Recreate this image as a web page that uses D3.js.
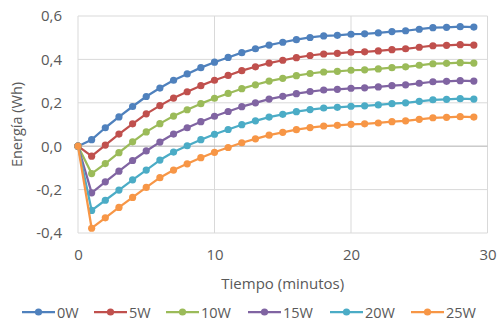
<!DOCTYPE html>
<html><head><meta charset="utf-8">
<script src="https://cdn.jsdelivr.net/npm/d3@7"></script>
<style>body{margin:0;background:#fff;} text{font-family:"Open Sans", Lato, sans-serif;fill:#595959;}</style>
</head><body><svg id="c" width="500" height="324"></svg>
<script>
const minutes = d3.range(0, 30);
const seriesNames = ["0W", "5W", "10W", "15W", "20W", "25W"];
const colors = ["#4F81BD", "#C0504D", "#9BBB59", "#8064A2", "#4BACC6", "#F79646"];
const s0W = [0, 0.030, 0.085, 0.135, 0.183, 0.229, 0.268, 0.304, 0.333, 0.362, 0.387, 0.409, 0.431, 0.449, 0.466, 0.479, 0.491, 0.501, 0.508, 0.511, 0.516, 0.518, 0.522, 0.528, 0.532, 0.539, 0.546, 0.548, 0.551, 0.549];
const s5W = [0, -0.046, 0.005, 0.056, 0.103, 0.149, 0.187, 0.222, 0.251, 0.279, 0.304, 0.326, 0.348, 0.366, 0.383, 0.396, 0.408, 0.418, 0.425, 0.428, 0.433, 0.435, 0.439, 0.445, 0.449, 0.456, 0.463, 0.465, 0.468, 0.466];
const s10W = [0, -0.126, -0.080, -0.030, 0.020, 0.066, 0.104, 0.139, 0.168, 0.196, 0.221, 0.243, 0.265, 0.283, 0.300, 0.313, 0.325, 0.335, 0.342, 0.345, 0.350, 0.352, 0.356, 0.362, 0.366, 0.373, 0.380, 0.382, 0.385, 0.383];
const s15W = [0, -0.215, -0.164, -0.115, -0.066, -0.022, 0.019, 0.056, 0.085, 0.113, 0.138, 0.160, 0.182, 0.200, 0.217, 0.230, 0.242, 0.252, 0.259, 0.262, 0.267, 0.269, 0.273, 0.279, 0.283, 0.290, 0.297, 0.299, 0.302, 0.300];
const s20W = [0, -0.296, -0.249, -0.202, -0.155, -0.110, -0.064, -0.027, 0.002, 0.030, 0.055, 0.077, 0.099, 0.117, 0.134, 0.147, 0.159, 0.169, 0.176, 0.179, 0.184, 0.186, 0.190, 0.196, 0.200, 0.207, 0.214, 0.216, 0.219, 0.217];
const s25W = [0, -0.378, -0.330, -0.282, -0.236, -0.190, -0.145, -0.110, -0.081, -0.053, -0.028, -0.006, 0.016, 0.034, 0.051, 0.064, 0.076, 0.086, 0.093, 0.096, 0.101, 0.103, 0.107, 0.113, 0.117, 0.124, 0.131, 0.133, 0.136, 0.134];
const seriesValues = [s0W, s5W, s10W, s15W, s20W, s25W];
const xTicks = [0, 10, 20, 30];
const yTicks = [-0.4, -0.2, 0, 0.2, 0.4, 0.6];

const svg = d3.select("#c");
const L = 78, R = 487.5, T = 16, B = 233;
const x = d3.scaleLinear().domain([0, 30]).range([L, R]);
const y = d3.scaleLinear().domain([-0.4, 0.6]).range([B, T]);
const fmt = v => d3.format(".1f")(v).replace(".", ",").replace("−", "-");
const FONT = "'Open Sans', Lato, sans-serif";

// gridlines
svg.append("g").selectAll("line").data(yTicks).join("line")
  .attr("x1", L).attr("x2", R).attr("y1", d => y(d)).attr("y2", d => y(d))
  .attr("stroke", "#d9d9d9").attr("stroke-width", 1);
svg.append("g").selectAll("line").data(xTicks).join("line")
  .attr("y1", T).attr("y2", B).attr("x1", d => x(d)).attr("x2", d => x(d))
  .attr("stroke", "#d9d9d9").attr("stroke-width", 1);
// zero axis line
svg.append("line").attr("x1", L).attr("x2", R).attr("y1", y(0)).attr("y2", y(0))
  .attr("stroke", "#bfbfbf").attr("stroke-width", 1);

// y tick labels
const yAxis = d3.axisLeft(y).tickValues(yTicks).tickFormat(fmt).tickSize(0).tickPadding(0);
const gy = svg.append("g").attr("transform", `translate(${L - 16},0)`).call(yAxis);
gy.select(".domain").remove();
gy.selectAll("text").attr("font-size", 15).attr("fill", "#595959").attr("font-family", FONT);

// x tick labels
const xAxis = d3.axisBottom(x).tickValues(xTicks).tickFormat(d3.format("d")).tickSize(0).tickPadding(0);
const gx = svg.append("g").attr("transform", `translate(0,${B + 16})`).call(xAxis);
gx.select(".domain").remove();
gx.selectAll("text").attr("font-size", 15).attr("fill", "#595959").attr("font-family", FONT);

// axis titles
svg.append("text").attr("x", x(15)).attr("y", 289).attr("text-anchor", "middle")
  .attr("font-size", 15).text("Tiempo (minutos)");
svg.append("text").attr("transform", `translate(22,${(T + B) / 2}) rotate(-90)`)
  .attr("text-anchor", "middle").attr("font-size", 14.5).text("Energía (Wh)");

// series
const line = d3.line().x((d, i) => x(minutes[i])).y(d => y(d));
seriesValues.forEach((vals, k) => {
  const g = svg.append("g");
  g.append("path").datum(vals).attr("d", line).attr("fill", "none")
    .attr("stroke", colors[k]).attr("stroke-width", 2.25).attr("stroke-linejoin", "round");
  g.selectAll("circle").data(vals).join("circle")
    .attr("cx", (d, i) => x(minutes[i])).attr("cy", d => y(d)).attr("r", 3.6)
    .attr("fill", colors[k]);
});

// legend
const legX = [22, 94, 166, 248, 330, 411];
const legY = 312;
const leg = svg.append("g");
seriesNames.forEach((n, k) => {
  const gx0 = legX[k];
  leg.append("line").attr("x1", gx0).attr("x2", gx0 + 33).attr("y1", legY).attr("y2", legY)
    .attr("stroke", colors[k]).attr("stroke-width", 2.25);
  leg.append("circle").attr("cx", gx0 + 16.5).attr("cy", legY).attr("r", 3.6).attr("fill", colors[k]);
  leg.append("text").attr("x", gx0 + 35).attr("y", legY + 5.5).attr("font-size", 14.5).text(n);
});
</script></body></html>
